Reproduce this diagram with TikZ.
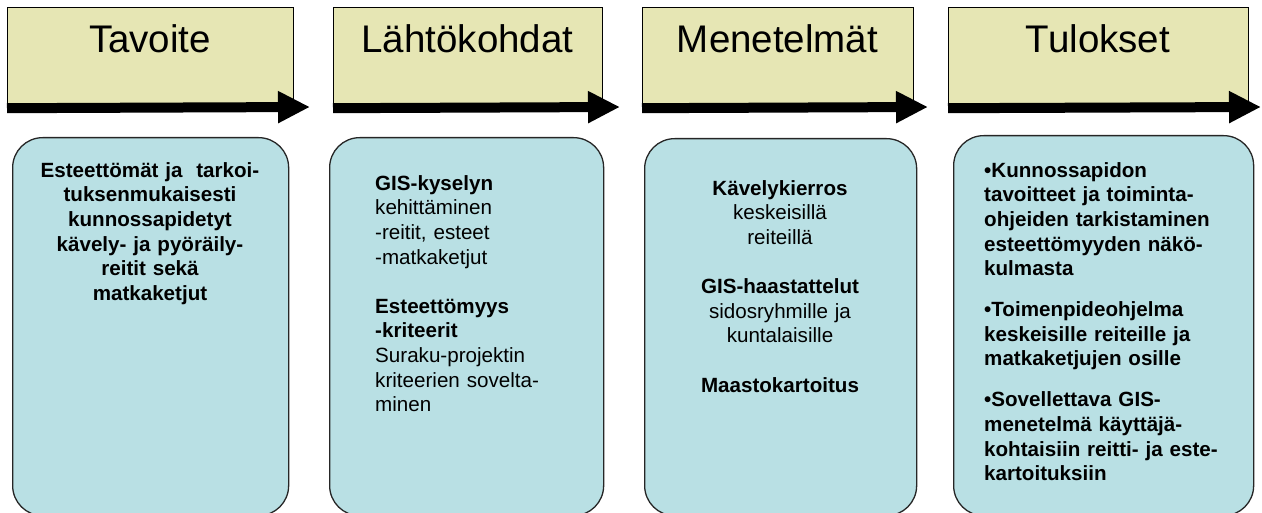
\documentclass[tikz,border=0pt]{standalone}
\usepackage{fontspec}
\setmainfont{Liberation Sans}
\usetikzlibrary{arrows.meta}
\definecolor{headfill}{RGB}{230,230,180}
\definecolor{boxfill}{RGB}{185,224,228}
\begin{document}
\begin{tikzpicture}[x=1pt,y=-1pt,
  headbox/.style={draw=black, line width=1.2pt, fill=headfill, rectangle, anchor=north west, inner sep=0pt, minimum height=100pt},
  headtext/.style={anchor=base, inner sep=0pt, font=\fontsize{38.5}{42}\selectfont},
  timebar/.style={draw=black, line width=10pt, -{Triangle[length=32pt,width=30pt]}},
  contentbox/.style={draw=black!85, line width=1.3pt, fill=boxfill, rounded corners=30pt, rectangle, anchor=north west, inner sep=0pt},
  bodytext/.style={inner sep=0pt, font=\fontsize{20.6}{24.6}\selectfont},
  boldtext/.style={bodytext, font=\fontsize{20.6}{24.6}\selectfont\bfseries},
]
\useasboundingbox (0,0) rectangle (1262,513);

% header boxes
\node[headbox, minimum width=286pt] (h1) at (7,7) {};
\node[headbox, minimum width=269pt] (h2) at (333,7) {};
\node[headbox, minimum width=271pt] (h3) at (642,7) {};
\node[headbox, minimum width=300pt] (h4) at (948,7) {};

\node[headtext] (ht1) at (150,53) {Tavoite};
\node[headtext] (ht2) at (467.5,53) {Lähtökohdat};
\node[headtext] (ht3) at (777.5,53) {Menetelmät};
\node[headtext] (ht4) at (1098,53) {Tulokset};

% arrows
\coordinate (tip1) at (310,107);
\coordinate (tip2) at (620,107);
\coordinate (tip3) at (928,107);
\coordinate (tip4) at (1261,107);
\draw[timebar] (h1.south west) -- (tip1);
\draw[timebar] (h2.south west) -- (tip2);
\draw[timebar] (h3.south west) -- (tip3);
\draw[timebar] (h4.south west) -- (tip4);

% content boxes
\node[contentbox, minimum width=276pt, minimum height=378pt] (b1) at (12,137) {};
\node[contentbox, minimum width=274pt, minimum height=378pt] (b2) at (329,137) {};
\node[contentbox, minimum width=272pt, minimum height=377pt] (b3) at (644,138) {};
\node[contentbox, minimum width=300pt, minimum height=380pt] (b4) at (953,135) {};

% texts
\node[boldtext, text width=270pt, align=center, anchor=north] (t1) at (150,159.8)
 {\strut Esteettömät ja\ \ tarkoi-\\tuksenmukaisesti\\kunnossapidetyt\\kävely- ja pyöräily-\\reitit sekä\\matkaketjut};

\node[bodytext, text width=225pt, align=left, anchor=north west] (t2) at (375,172.8)
 {\strut{\bfseries GIS-kyselyn}\\kehittäminen\\-reitit, esteet\\-matkaketjut\\[24.6pt]{\bfseries Esteettömyys}\\{\bfseries -kriteerit}\\Suraku-projektin\\kriteerien sovelta-\\minen};

\node[bodytext, text width=260pt, align=center, anchor=north] (t3) at (780,177.8)
 {\strut{\bfseries Kävelykierros}\\keskeisillä\\reiteillä\\[24.6pt]{\bfseries GIS-haastattelut}\\sidosryhmille ja\\kuntalaisille\\[24.6pt]{\bfseries Maastokartoitus}};

\node[boldtext, text width=262pt, align=left, anchor=north west] (t4) at (984,159.8)
 {\strut •Kunnossapidon\\tavoitteet ja toiminta-\\ohjeiden tarkistaminen\\esteettömyyden näkö-\\kulmasta\\[16.4pt]•Toimenpideohjelma\\keskeisille reiteille ja\\matkaketjujen osille\\[16.4pt]•Sovellettava GIS-\\menetelmä käyttäjä-\\kohtaisiin reitti- ja este-\\kartoituksiin};
\end{tikzpicture}
\end{document}
